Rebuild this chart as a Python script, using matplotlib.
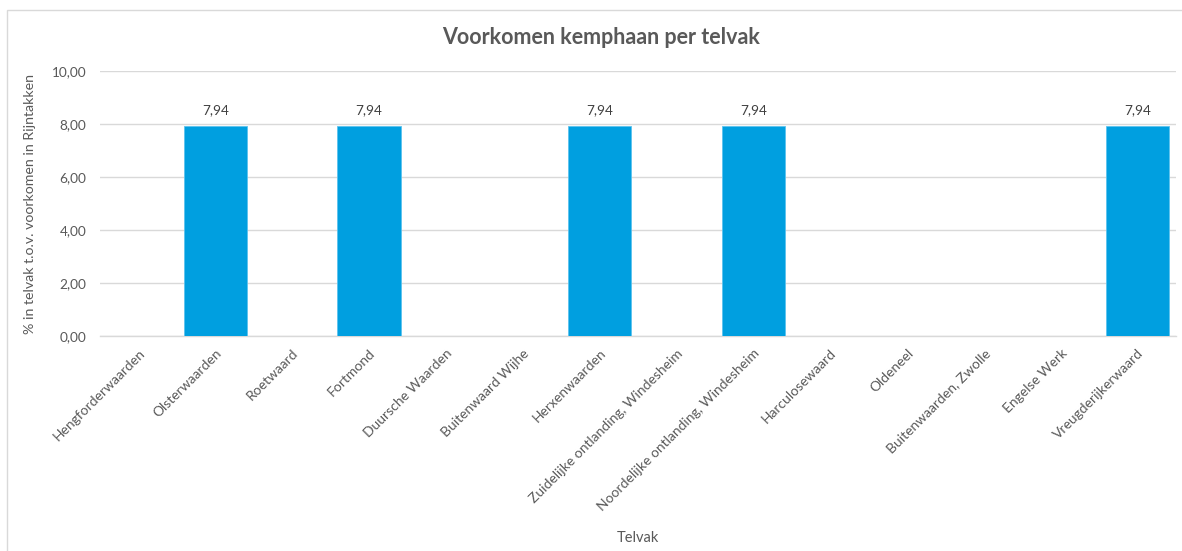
import matplotlib
matplotlib.use("Agg")
import matplotlib.pyplot as plt
from matplotlib.patches import Rectangle
from matplotlib.ticker import FuncFormatter

categories = [
    "Hengforderwaarden", "Olsterwaarden", "Roetwaard", "Fortmond",
    "Duursche Waarden", "Buitenwaard Wijhe", "Herxenwaarden",
    "Zuidelijke ontlanding, Windesheim", "Noordelijke ontlanding, Windesheim",
    "Harculosewaard", "Oldeneel", "Buitenwaarden, Zwolle", "Engelse Werk",
    "Vreugderijkerwaard",
]
values = [0, 7.94, 0, 7.94, 0, 0, 7.94, 0, 7.94, 0, 0, 0, 0, 7.94]
y_ticks = [0, 2, 4, 6, 8, 10]

plt.rcParams["font.family"] = ["Lato", "DejaVu Sans"]
text_col = "#595959"
grid_col = "#d9d9d9"
bar_col = "#009fe0"

fig = plt.figure(figsize=(11.82, 5.51), dpi=100)
fig.patches.append(Rectangle((7 / 1182, -0.01), 1.02, 1 - 10 / 551 + 0.01,
                             transform=fig.transFigure, fill=False,
                             edgecolor="#d9d9d9", linewidth=1.0))

ax = fig.add_axes([100 / 1182, 1 - 336 / 551, 1076 / 1182, 265 / 551])
x = range(len(categories))
bars = ax.bar(x, values, width=0.82, color=bar_col, edgecolor="#5cc3ee",
              linewidth=0.6, zorder=3)

for b, v in zip(bars, values):
    if v > 0:
        ax.text(b.get_x() + b.get_width() / 2, v + 0.35,
                f"{v:.2f}".replace(".", ","), ha="center", va="bottom",
                fontsize=9.8, color="#404040")

ax.set_xlim(-0.5, len(categories) - 0.5)
ax.set_ylim(0, 10)
ax.set_yticks(y_ticks)
ax.yaxis.set_major_formatter(FuncFormatter(lambda v, _: f"{v:.2f}".replace(".", ",")))
ax.grid(axis="y", color=grid_col, linewidth=1.0, zorder=0)
ax.set_axisbelow(True)
for s in ["top", "right", "left"]:
    ax.spines[s].set_visible(False)
ax.spines["bottom"].set_color(grid_col)
ax.spines["bottom"].set_linewidth(1.0)

ax.set_xticks(list(x))
ax.set_xticklabels(categories, rotation=45, ha="right", rotation_mode="anchor",
                   fontsize=10, color=text_col)
ax.tick_params(axis="x", length=0, pad=8)
ax.tick_params(axis="y", length=0, pad=10, labelsize=9.8, labelcolor=text_col)

ax.set_ylabel("% in telvak t.o.v. voorkomen in Rijntakken", fontsize=10.2,
              color=text_col, labelpad=11)
fig.text(638 / 1182, 1 - 538 / 551, "Telvak", ha="center", va="center",
         fontsize=10.5, color=text_col)
fig.text(601 / 1182, 1 - 38 / 551, "Voorkomen kemphaan per telvak",
         ha="center", va="center", fontsize=15.5, fontweight="bold",
         color=text_col)

fig.savefig("out.png", dpi=100)
